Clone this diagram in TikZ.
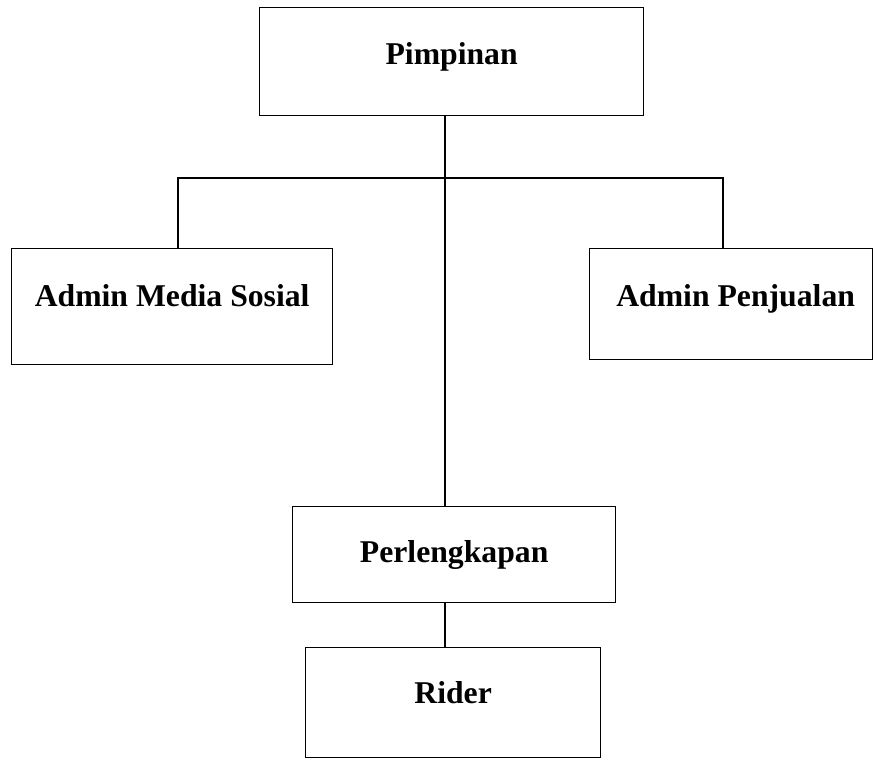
\documentclass[tikz,border=0pt]{standalone}
\usepackage{fontspec}
\setmainfont{Liberation Serif}
\usepackage{tikz}

\begin{document}
\begin{tikzpicture}[x=1pt, y=-1pt, line width=1.3pt,
		box/.style={draw, inner sep=0pt, anchor=north west,
			font=\bfseries\fontsize{31.7}{38}\selectfont}]
		\useasboundingbox (0,0) rectangle (873,758);
		% Boxes
		\node[box, minimum width=384pt, text height=57pt, text depth=51pt] (pim) at (259,7) {Pimpinan};
		\node[box, minimum width=321pt, text height=58pt, text depth=58pt] (ams) at (11,248) {Admin Media Sosial};
		\node[box, minimum width=283pt, text height=58pt, text depth=53pt] (apj) at (589,248) {\hspace{9pt}Admin Penjualan};
		\node[box, minimum width=323pt, text height=56pt, text depth=40pt] (per) at (292,506) {Perlengkapan};
		\node[box, minimum width=295pt, text height=56pt, text depth=54pt] (rid) at (305,647) {Rider};
		% Branch points
		\coordinate (hub) at (445,178);
		\coordinate (lt) at (178,178);
		\coordinate (rt) at (723,178);
		% Lines
		\draw (hub |- pim.south) -- (hub |- per.north);
		\draw (lt |- ams.north) -- (lt) -- (rt) -- (rt |- apj.north);
		\draw (hub |- per.south) -- (hub |- rid.north);
	\end{tikzpicture}
\end{document}
